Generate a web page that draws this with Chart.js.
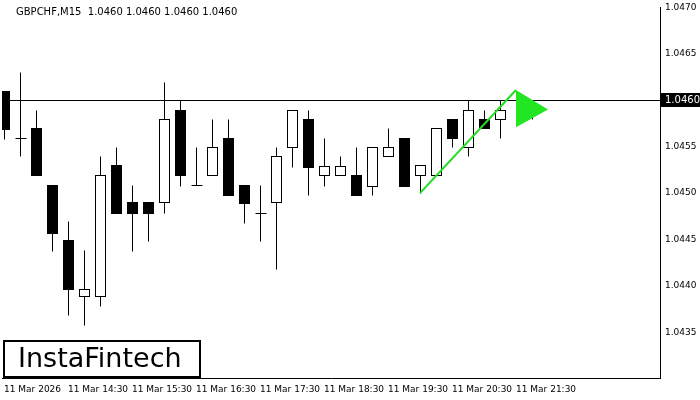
<!DOCTYPE html>
<html>
<head>
<meta charset="utf-8">
<script src="https://cdn.jsdelivr.net/npm/chart.js@4"></script>
<style>
  body { margin: 0; background: #fff; }
  #wrap { width: 700px; height: 400px; }
</style>
</head>
<body>
<div id="wrap"><canvas id="c" width="700" height="400"></canvas></div>
<script>
// candle data (GBPCHF M15)
const opens  = [1.04610,1.04559,1.04570,1.04509,1.04449,1.04389,1.04389,1.04530,1.04490,1.04490,1.04490,1.04589,1.04509,1.04520,1.04559,1.04509,1.04479,1.04490,1.04550,1.04580,1.04520,1.04520,1.04520,1.04508,1.04540,1.04559,1.04520,1.04520,1.04580,1.04550,1.04580,1.04580,1.04600,1.04589];
const highs  = [1.04610,1.04630,1.04589,1.04509,1.04470,1.04439,1.04540,1.04550,1.04509,1.04490,1.04620,1.04600,1.04550,1.04580,1.04580,1.04509,1.04509,1.04550,1.04589,1.04589,1.04559,1.04540,1.04550,1.04550,1.04570,1.04559,1.04530,1.04570,1.04580,1.04600,1.04589,1.04600,1.04609,1.04600];
const lows   = [1.04558,1.04540,1.04519,1.04438,1.04369,1.04358,1.04378,1.04478,1.04438,1.04448,1.04478,1.04508,1.04509,1.04520,1.04498,1.04468,1.04448,1.04418,1.04528,1.04498,1.04508,1.04520,1.04498,1.04498,1.04540,1.04508,1.04500,1.04520,1.04550,1.04540,1.04570,1.04559,1.04589,1.04580];
const closes = [1.04569,1.04559,1.04519,1.04457,1.04397,1.04397,1.04520,1.04478,1.04478,1.04478,1.04580,1.04519,1.04509,1.04550,1.04498,1.04489,1.04479,1.04540,1.04589,1.04528,1.04529,1.04529,1.04498,1.04550,1.04550,1.04508,1.04530,1.04570,1.04559,1.04589,1.04570,1.04589,1.04600,1.04589];

const yTicks = [1.0435,1.0440,1.0445,1.0450,1.0455,1.0460,1.0465,1.0470];
const xTickIdx = [0,4,8,12,16,20,24,28,32];
const xTickLabels = ['11 Mar 2026','11 Mar 14:30','11 Mar 15:30','11 Mar 16:30','11 Mar 17:30','11 Mar 18:30','11 Mar 19:30','11 Mar 20:30','11 Mar 21:30'];

// flag pattern: pole from candle 26 low to candle 32 high, flag triangle after it
const poleX = [26, 32];
const poleY = [1.04500, 1.04611];
const flagX = [32, 32, 34, 32];
const flagY = [1.04611, 1.04571, 1.04590, 1.04611];
const lastPrice = 1.0460;

const candlePlugin = {
  id: 'candles',
  beforeDatasetsDraw(chart) {
    const { ctx, chartArea: a, scales: { x, y } } = chart;
    ctx.save();
    ctx.beginPath();
    ctx.rect(a.left, a.top, a.right - a.left, a.bottom - a.top);
    ctx.clip();
    ctx.lineWidth = 1;
    ctx.strokeStyle = '#000';
    opens.forEach((o, i) => {
      const cx = Math.round(x.getPixelForValue(i)) + 0.5;
      const yo = Math.round(y.getPixelForValue(o)) + 0.5;
      const yc = Math.round(y.getPixelForValue(closes[i])) + 0.5;
      const yh = Math.round(y.getPixelForValue(highs[i])) + 0.5;
      const yl = Math.round(y.getPixelForValue(lows[i])) + 0.5;
      ctx.beginPath();
      ctx.moveTo(cx, yh); ctx.lineTo(cx, yl); ctx.stroke();
      const top = Math.min(yo, yc), h = Math.abs(yo - yc);
      if (h < 1) {
        ctx.beginPath(); ctx.moveTo(cx - 5, top); ctx.lineTo(cx + 6, top); ctx.stroke();
      } else if (closes[i] < o) {
        ctx.fillStyle = '#000';
        ctx.fillRect(cx - 5.5, top - 0.5, 11, h + 1);
      } else {
        ctx.fillStyle = '#fff';
        ctx.fillRect(cx - 5, top, 10, h);
        ctx.strokeRect(cx - 5, top, 10, h);
      }
    });
    // last price line
    const yp = Math.round(y.getPixelForValue(lastPrice)) + 0.5;
    ctx.beginPath(); ctx.moveTo(a.left, yp); ctx.lineTo(a.right, yp); ctx.stroke();
    ctx.restore();
  },
  afterDraw(chart) {
    const { ctx, chartArea: a, scales: { y } } = chart;
    ctx.save();
    const yp = Math.round(y.getPixelForValue(lastPrice));
    ctx.fillStyle = '#000';
    ctx.fillRect(a.right, yp - 7, 40, 14);
    ctx.fillStyle = '#fff';
    ctx.font = '10px "DejaVu Sans"';
    ctx.textBaseline = 'middle';
    ctx.fillText('1.0460', a.right + 5, yp + 0.5);
    // header
    ctx.fillStyle = '#000';
    ctx.font = '10px "DejaVu Sans"';
    ctx.fillText('GBPCHF,M15  1.0460 1.0460 1.0460 1.0460', 16, 12);
    // logo
    ctx.fillStyle = '#fff';
    ctx.fillRect(3, 340, 198, 37);
    ctx.lineWidth = 2;
    ctx.strokeStyle = '#000';
    ctx.strokeRect(4, 341, 196, 36);
    ctx.fillStyle = '#000';
    ctx.font = '27px "DejaVu Sans"';
    ctx.fillText('InstaFintech', 18, 360);
    ctx.restore();
  }
};

new Chart(document.getElementById('c'), {
  type: 'scatter',
  data: {
    datasets: [
      { type: 'line', data: flagX.map((v, i) => ({ x: v, y: flagY[i] })), borderWidth: 0,
        backgroundColor: '#22e622', fill: 'shape', pointRadius: 0, order: 1 },
      { type: 'line', data: poleX.map((v, i) => ({ x: v, y: poleY[i] })), borderColor: '#22dd22',
        borderWidth: 2, pointRadius: 0, fill: false, order: 0 }
    ]
  },
  plugins: [candlePlugin],
  options: {
    animation: false, responsive: false, devicePixelRatio: 1,
    layout: { padding: { left: 2, top: 0, right: 0, bottom: 0 } },
    plugins: { legend: { display: false }, tooltip: { enabled: false } },
    scales: {
      x: {
        type: 'linear', min: -0.125, max: 41,
        afterFit: s => { s.height = 22; },
        afterBuildTicks: s => { s.ticks = xTickIdx.map(v => ({ value: v })); },
        grid: { display: false, drawTicks: true, tickLength: 4 },
        border: { color: '#000' },
        ticks: { align: 'start', maxRotation: 0, autoSkip: false, padding: 2, color: '#000',
          font: { family: 'DejaVu Sans', size: 9 },
          callback: v => xTickLabels[xTickIdx.indexOf(v)] }
      },
      y: {
        position: 'right', min: 1.043008, max: 1.0470,
        afterFit: s => { s.width = 40; },
        afterBuildTicks: s => { s.ticks = yTicks.map(v => ({ value: v })); },
        grid: { display: false, drawTicks: true, tickLength: 3 },
        border: { color: '#000' },
        ticks: { padding: 2, color: '#000', font: { family: 'DejaVu Sans', size: 9 },
          callback: v => v.toFixed(4) }
      }
    }
  }
});
</script>
</body>
</html>
